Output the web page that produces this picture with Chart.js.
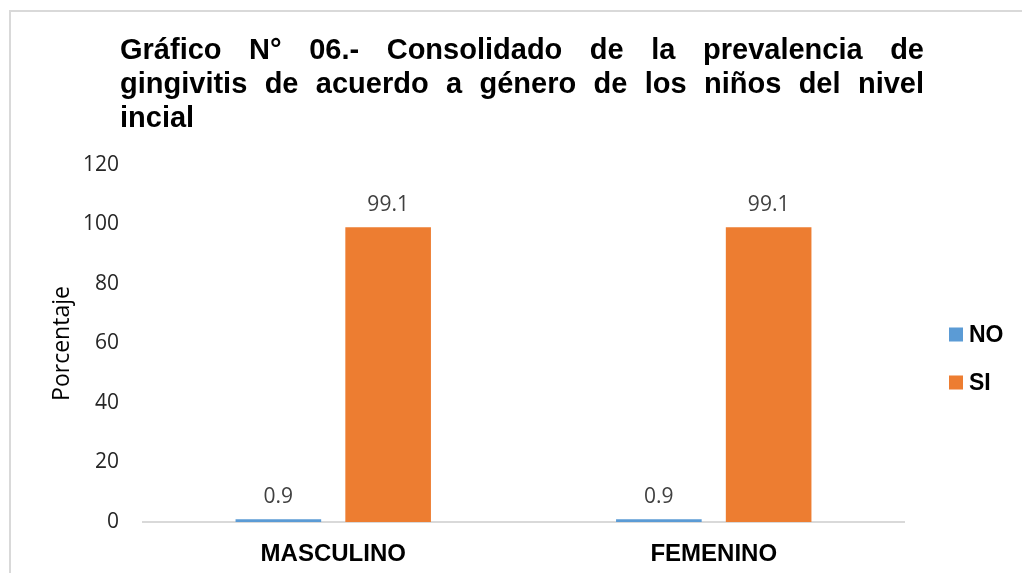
<!DOCTYPE html>
<html>
<head>
<meta charset="utf-8">
<script src="https://cdn.jsdelivr.net/npm/chart.js@4.4.0/dist/chart.umd.min.js"></script>
<style>
html, body { margin: 0; padding: 0; background: #fff; overflow: hidden; }
#wrap { position: relative; width: 1022px; height: 573px; overflow: hidden; }
#frame { position: absolute; left: 9px; top: 10px; width: 1100px; height: 700px; border: 2px solid #d9d9d9; box-sizing: border-box; }
#title { position: absolute; left: 120px; top: 32px; width: 804px; font: bold 29px "Liberation Sans", Arial, sans-serif; line-height: 34px; color: #000; z-index: 2; }
#title div { text-align: justify; text-align-last: justify; }
#title div.last { text-align-last: left; }
canvas { position: absolute; left: 0; top: 0; }
</style>
</head>
<body>
<div id="wrap">
  <div id="frame"></div>
  <div id="title">
    <div>Gráfico N° 06.- Consolidado de la prevalencia de</div>
    <div>gingivitis de acuerdo a género de los niños del nivel</div>
    <div class="last">incial</div>
  </div>
  <canvas id="myChart" width="1022" height="573"></canvas>
</div>
<script>
// datos del grafico
const categories = ['MASCULINO', 'FEMENINO']
const seriesNames = ['NO', 'SI']
const noValues = [0.9, 0.9]
const siValues = [99.1, 99.1]
const yTicks = [0, 20, 40, 60, 80, 100, 120]
const seriesColors = ['#5B9BD5', '#ED7D31']

const ctx = document.getElementById('myChart')

// etiquetas de valor encima de cada barra
const valueLabels = {
    id: 'valueLabels',
    afterDatasetsDraw(chart) {
        const c = chart.ctx
        c.save()
        c.font = '21px "Open Sans"'
        c.fillStyle = '#404040'
        c.textAlign = 'center'
        c.textBaseline = 'alphabetic'
        chart.data.datasets.forEach((ds, i) => {
            chart.getDatasetMeta(i).data.forEach((bar, j) => {
                c.fillText(ds.data[j].toFixed(1), bar.x, bar.y - 16)
            })
        })
        c.restore()
    }
}

// leyenda a la derecha
const sideLegend = {
    id: 'sideLegend',
    afterDraw(chart) {
        const c = chart.ctx
        const area = chart.chartArea
        const x = area.right + 45
        const y0 = (area.top + area.bottom) / 2 - 9
        c.save()
        c.font = 'bold 23px "Liberation Sans", Arial, sans-serif'
        c.textBaseline = 'middle'
        c.textAlign = 'left'
        chart.data.datasets.forEach((ds, i) => {
            const y = y0 + i * 48
            c.fillStyle = ds.backgroundColor
            c.fillRect(x, y - 7, 14, 14)
            c.fillStyle = '#000'
            c.fillText(ds.label, x + 20, y + 1)
        })
        c.restore()
    }
}

new Chart(ctx, {
    type: 'bar',
    data: {
        labels: categories,
        datasets: [{
            label: seriesNames[0],
            data: noValues,
            backgroundColor: seriesColors[0],
            borderWidth: 0,
            categoryPercentage: 0.577,
            barPercentage: 0.78
        }, {
            label: seriesNames[1],
            data: siValues,
            backgroundColor: seriesColors[1],
            borderWidth: 0,
            categoryPercentage: 0.577,
            barPercentage: 0.78
        }]
    },
    options: {
        responsive: false,
        animation: false,
        layout: {
            padding: { left: 0, right: 118, top: 165, bottom: 0 }
        },
        plugins: {
            legend: { display: false },
            tooltip: { enabled: false }
        },
        scales: {
            x: {
                grid: { display: false },
                border: { display: true, color: '#d9d9d9', width: 2 },
                ticks: {
                    padding: 10,
                    color: '#000',
                    font: { family: '"Liberation Sans", Arial, sans-serif', size: 24, weight: 'bold' }
                },
                afterFit: (scale) => { scale.height = 51 }
            },
            y: {
                min: 0,
                max: 120,
                grid: { display: false },
                border: { display: false },
                ticks: {
                    padding: 16,
                    color: '#262626',
                    font: { family: '"Open Sans"', size: 21 }
                },
                afterBuildTicks: (scale) => {
                    scale.ticks = yTicks.map(v => ({ value: v }))
                },
                title: {
                    display: true,
                    text: 'Porcentaje',
                    color: '#000',
                    padding: { top: 49, bottom: 0 },
                    font: { family: '"Open Sans"', size: 23 }
                },
                afterFit: (scale) => { scale.width = 143 }
            }
        }
    },
    plugins: [valueLabels, sideLegend]
})
</script>
</body>
</html>
